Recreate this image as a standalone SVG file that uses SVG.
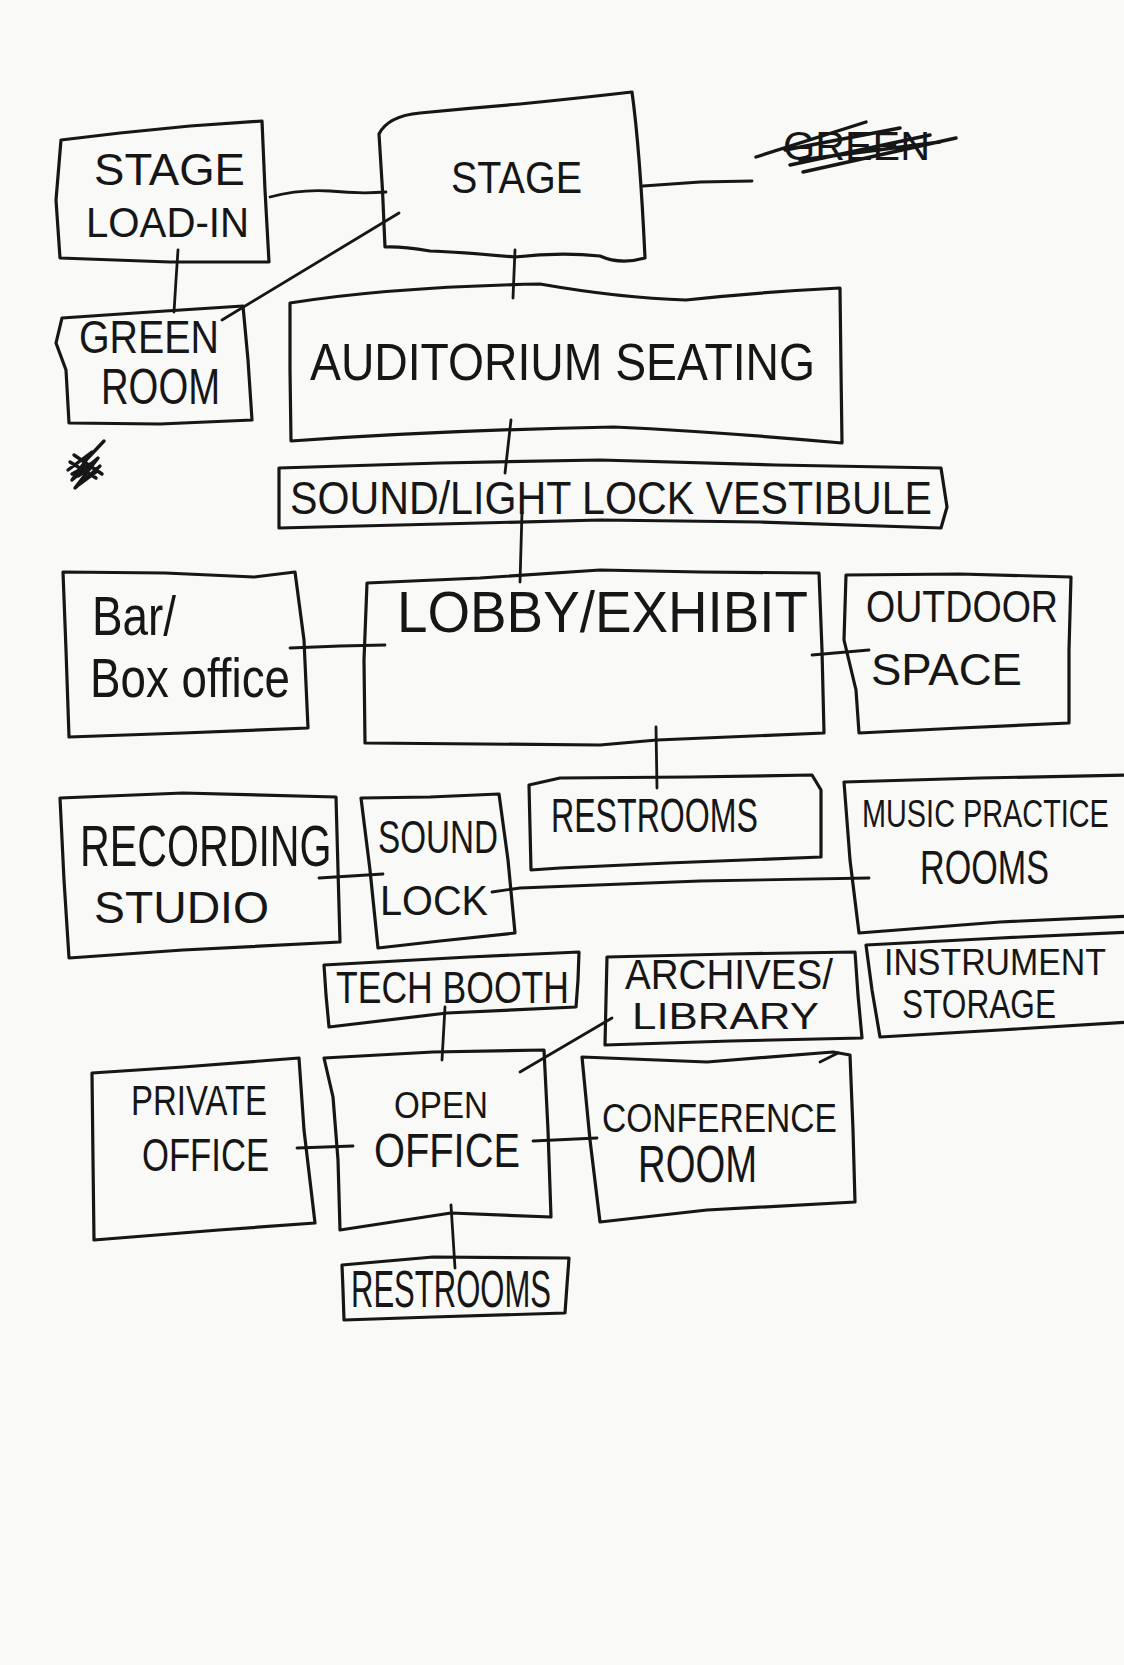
<svg xmlns="http://www.w3.org/2000/svg" width="1124" height="1665" viewBox="0 0 1124 1665">
<style>
.bg{fill:#f9f9f7}
.box{fill:none;stroke:#161616;stroke-width:3.2;stroke-linejoin:round;stroke-linecap:round}
.edge{fill:none;stroke:#161616;stroke-width:2.8;stroke-linecap:round;stroke-linejoin:round}
.scrib{fill:none;stroke:#161616;stroke-width:3.4;stroke-linecap:round;stroke-linejoin:round}
.t{font-family:"Liberation Sans",Arial,sans-serif;fill:#161616}
</style>
<rect class="bg" x="0" y="0" width="1124" height="1665"/>

<g id="connectors">
  <path class="edge" d="M178,250 L176,280 L174,312"/>
  <path class="edge" d="M270,197 Q300,189 330,191 Q360,194 386,192"/>
  <path class="edge" d="M222,320 L399,213"/>
  <path class="edge" d="M515,250 L513,298"/>
  <path class="edge" d="M643,186 L700,182 L752,181"/>
  <path class="edge" d="M511,420 L505,473"/>
  <path class="edge" d="M522,512 L520,582"/>
  <path class="edge" d="M290,648 L340,646 L385,645"/>
  <path class="edge" d="M812,655 L869,650"/>
  <path class="edge" d="M656,727 L657,788"/>
  <path class="edge" d="M319,878 L383,874"/>
  <path class="edge" d="M492,892 L520,888 L700,881 L869,878"/>
  <path class="edge" d="M445,1007 L442,1060"/>
  <path class="edge" d="M520,1072 L612,1018"/>
  <path class="edge" d="M297,1148 L353,1146"/>
  <path class="edge" d="M533,1141 L597,1138"/>
  <path class="edge" d="M451,1205 L455,1268"/>
</g>

<g id="stage-load-in">
  <path class="box" d="M61,140 L120,133 L190,126 L262,121 L265,190 L269,262 L170,262 L60,258 L56,200 Z"/>
  <text class="t" x="94" y="185" font-size="45" textLength="151" lengthAdjust="spacingAndGlyphs">STAGE</text>
  <text class="t" x="86" y="237" font-size="43" textLength="163" lengthAdjust="spacingAndGlyphs">LOAD-IN</text>
</g>

<g id="stage">
  <path class="box" d="M379,134 Q388,116 420,113 Q470,108 520,104 Q580,98 632,92 Q640,150 645,258 Q620,265 600,256 Q560,252 515,257 Q460,252 430,251 Q400,246 385,247 Q383,190 379,134 Z"/>
  <text class="t" x="451" y="193" font-size="44" textLength="131" lengthAdjust="spacingAndGlyphs">STAGE</text>
</g>

<g id="green-struck">
  <text class="t" x="783" y="160" font-size="40" textLength="147" lengthAdjust="spacingAndGlyphs">GREEN</text>
  <path class="scrib" d="M756,157 L866,122 M803,172 L956,138 M790,165 L930,135 M785,150 L900,128 M800,160 L940,142"/>
</g>

<g id="green-room">
  <path class="box" d="M62,318 L150,312 L243,306 L248,360 L252,420 L160,424 L69,423 L66,370 L56,343 Z"/>
  <text class="t" x="79" y="353" font-size="46" textLength="140" lengthAdjust="spacingAndGlyphs">GREEN</text>
  <text class="t" x="101" y="404" font-size="50" textLength="119" lengthAdjust="spacingAndGlyphs">ROOM</text>
</g>

<g id="auditorium">
  <path class="box" d="M290,303 Q390,287 540,284 Q620,298 686,300 Q760,292 840,288 L841,370 L842,443 Q720,432 614,427 Q450,430 291,441 L290,370 Z"/>
  <text class="t" x="310" y="380" font-size="52" textLength="505" lengthAdjust="spacingAndGlyphs">AUDITORIUM SEATING</text>
</g>

<g id="scribble">
  <path class="scrib" d="M68,470 L92,452 L72,480 L98,458 L75,488 L100,466 L80,484 L96,472 M70,462 L96,478 M74,455 L102,474 M72,474 L94,462 L78,476 L90,468 M88,458 L104,441"/>
</g>

<g id="vestibule">
  <path class="box" d="M279,468 L440,463 L600,460 L776,465 L941,468 L947,507 L941,528 L760,522 L600,520 L440,524 L279,528 Z"/>
  <text class="t" x="290" y="514" font-size="46" textLength="642" lengthAdjust="spacingAndGlyphs">SOUND/LIGHT LOCK VESTIBULE</text>
</g>

<g id="bar-box-office">
  <path class="box" d="M63,572 L165,573 L254,577 L295,572 L304,640 L308,728 L183,733 L69,737 L66,650 Z"/>
  <text class="t" x="92" y="635" font-size="55" textLength="84" lengthAdjust="spacingAndGlyphs">Bar/</text>
  <text class="t" x="90" y="697" font-size="55" textLength="200" lengthAdjust="spacingAndGlyphs">Box office</text>
</g>

<g id="lobby">
  <path class="box" d="M367,583 L480,578 L600,570 L700,572 L819,573 L822,650 L824,733 L657,740 L600,745 L365,743 L364,660 Z"/>
  <text class="t" x="397" y="632" font-size="58" textLength="411" lengthAdjust="spacingAndGlyphs">LOBBY/EXHIBIT</text>
</g>

<g id="outdoor">
  <path class="box" d="M846,575 L960,574 L1071,577 L1069,650 L1069,723 L960,728 L859,733 L856,690 L844,640 Z"/>
  <text class="t" x="866" y="622" font-size="45" textLength="192" lengthAdjust="spacingAndGlyphs">OUTDOOR</text>
  <text class="t" x="871" y="685" font-size="45" textLength="151" lengthAdjust="spacingAndGlyphs">SPACE</text>
</g>

<g id="restrooms-upper">
  <path class="box" d="M529,785 L560,778 L690,777 L812,775 L821,790 L821,857 L668,863 L560,868 L531,870 Z"/>
  <text class="t" x="551" y="832" font-size="49" textLength="207" lengthAdjust="spacingAndGlyphs">RESTROOMS</text>
</g>

<g id="music-practice">
  <path class="box" d="M1130,775 L980,778 L844,782 L850,860 L859,933 L1000,922 L1130,916"/>
  <text class="t" transform="translate(862,827) scale(0.74,1)" x="0" y="0" font-size="39">MUSIC PRACTICE</text>
  <text class="t" x="920" y="884" font-size="48" textLength="129" lengthAdjust="spacingAndGlyphs">ROOMS</text>
</g>

<g id="recording-studio">
  <path class="box" d="M60,798 L183,793 L336,797 L338,870 L340,942 L183,950 L69,958 L64,880 Z"/>
  <text class="t" transform="translate(80,866) scale(0.71,1)" x="0" y="0" font-size="58">RECORDING</text>
  <text class="t" x="94" y="923" font-size="45" textLength="175" lengthAdjust="spacingAndGlyphs">STUDIO</text>
</g>

<g id="sound-lock">
  <path class="box" d="M361,798 L430,797 L499,794 L508,860 L515,933 L440,941 L378,948 L370,870 Z"/>
  <text class="t" x="378" y="853" font-size="46" textLength="120" lengthAdjust="spacingAndGlyphs">SOUND</text>
  <text class="t" x="380" y="915" font-size="43" textLength="108" lengthAdjust="spacingAndGlyphs">LOCK</text>
</g>

<g id="tech-booth">
  <path class="box" d="M324,965 L469,957 L579,952 L578,980 L576,1007 L447,1013 L329,1027 L326,995 Z"/>
  <text class="t" x="336" y="1003" font-size="45" textLength="233" lengthAdjust="spacingAndGlyphs">TECH BOOTH</text>
</g>

<g id="archives-library">
  <path class="box" d="M607,957 L730,954 L855,952 L858,995 L862,1038 L730,1041 L605,1045 L606,1000 Z"/>
  <text class="t" x="625" y="989" font-size="42" textLength="208" lengthAdjust="spacingAndGlyphs">ARCHIVES/</text>
  <text class="t" x="632" y="1029" font-size="37" textLength="187" lengthAdjust="spacingAndGlyphs">LIBRARY</text>
</g>

<g id="instrument-storage">
  <path class="box" d="M1130,932 L1000,938 L866,945 L872,990 L880,1037 L1000,1030 L1130,1022"/>
  <text class="t" x="884" y="975" font-size="37" textLength="222" lengthAdjust="spacingAndGlyphs">INSTRUMENT</text>
  <text class="t" x="902" y="1018" font-size="41" textLength="154" lengthAdjust="spacingAndGlyphs">STORAGE</text>
</g>

<g id="private-office">
  <path class="box" d="M92,1073 L183,1067 L299,1058 L304,1130 L315,1223 L219,1230 L94,1240 L93,1160 Z"/>
  <text class="t" x="131" y="1115" font-size="42" textLength="136" lengthAdjust="spacingAndGlyphs">PRIVATE</text>
  <text class="t" x="142" y="1171" font-size="46" textLength="127" lengthAdjust="spacingAndGlyphs">OFFICE</text>
</g>

<g id="open-office">
  <path class="box" d="M324,1058 L433,1052 L544,1050 L548,1130 L551,1217 L451,1213 L340,1230 L338,1160 L333,1097 Z"/>
  <text class="t" x="394" y="1118" font-size="37" textLength="94" lengthAdjust="spacingAndGlyphs">OPEN</text>
  <text class="t" x="374" y="1167" font-size="48" textLength="146" lengthAdjust="spacingAndGlyphs">OFFICE</text>
</g>

<g id="conference-room">
  <path class="box" d="M582,1057 L707,1062 L833,1052 L850,1055 L853,1130 L855,1202 L707,1210 L600,1222 L590,1140 Z"/>
  <path class="edge" d="M820,1062 L838,1053"/>
  <text class="t" x="602" y="1132" font-size="40" textLength="235" lengthAdjust="spacingAndGlyphs">CONFERENCE</text>
  <text class="t" x="638" y="1182" font-size="52" textLength="119" lengthAdjust="spacingAndGlyphs">ROOM</text>
</g>

<g id="restrooms-lower">
  <path class="box" d="M342,1265 L433,1257 L569,1258 L567,1285 L565,1313 L433,1317 L344,1320 L343,1290 Z"/>
  <text class="t" x="351" y="1307" font-size="52" textLength="200" lengthAdjust="spacingAndGlyphs">RESTROOMS</text>
</g>
</svg>
